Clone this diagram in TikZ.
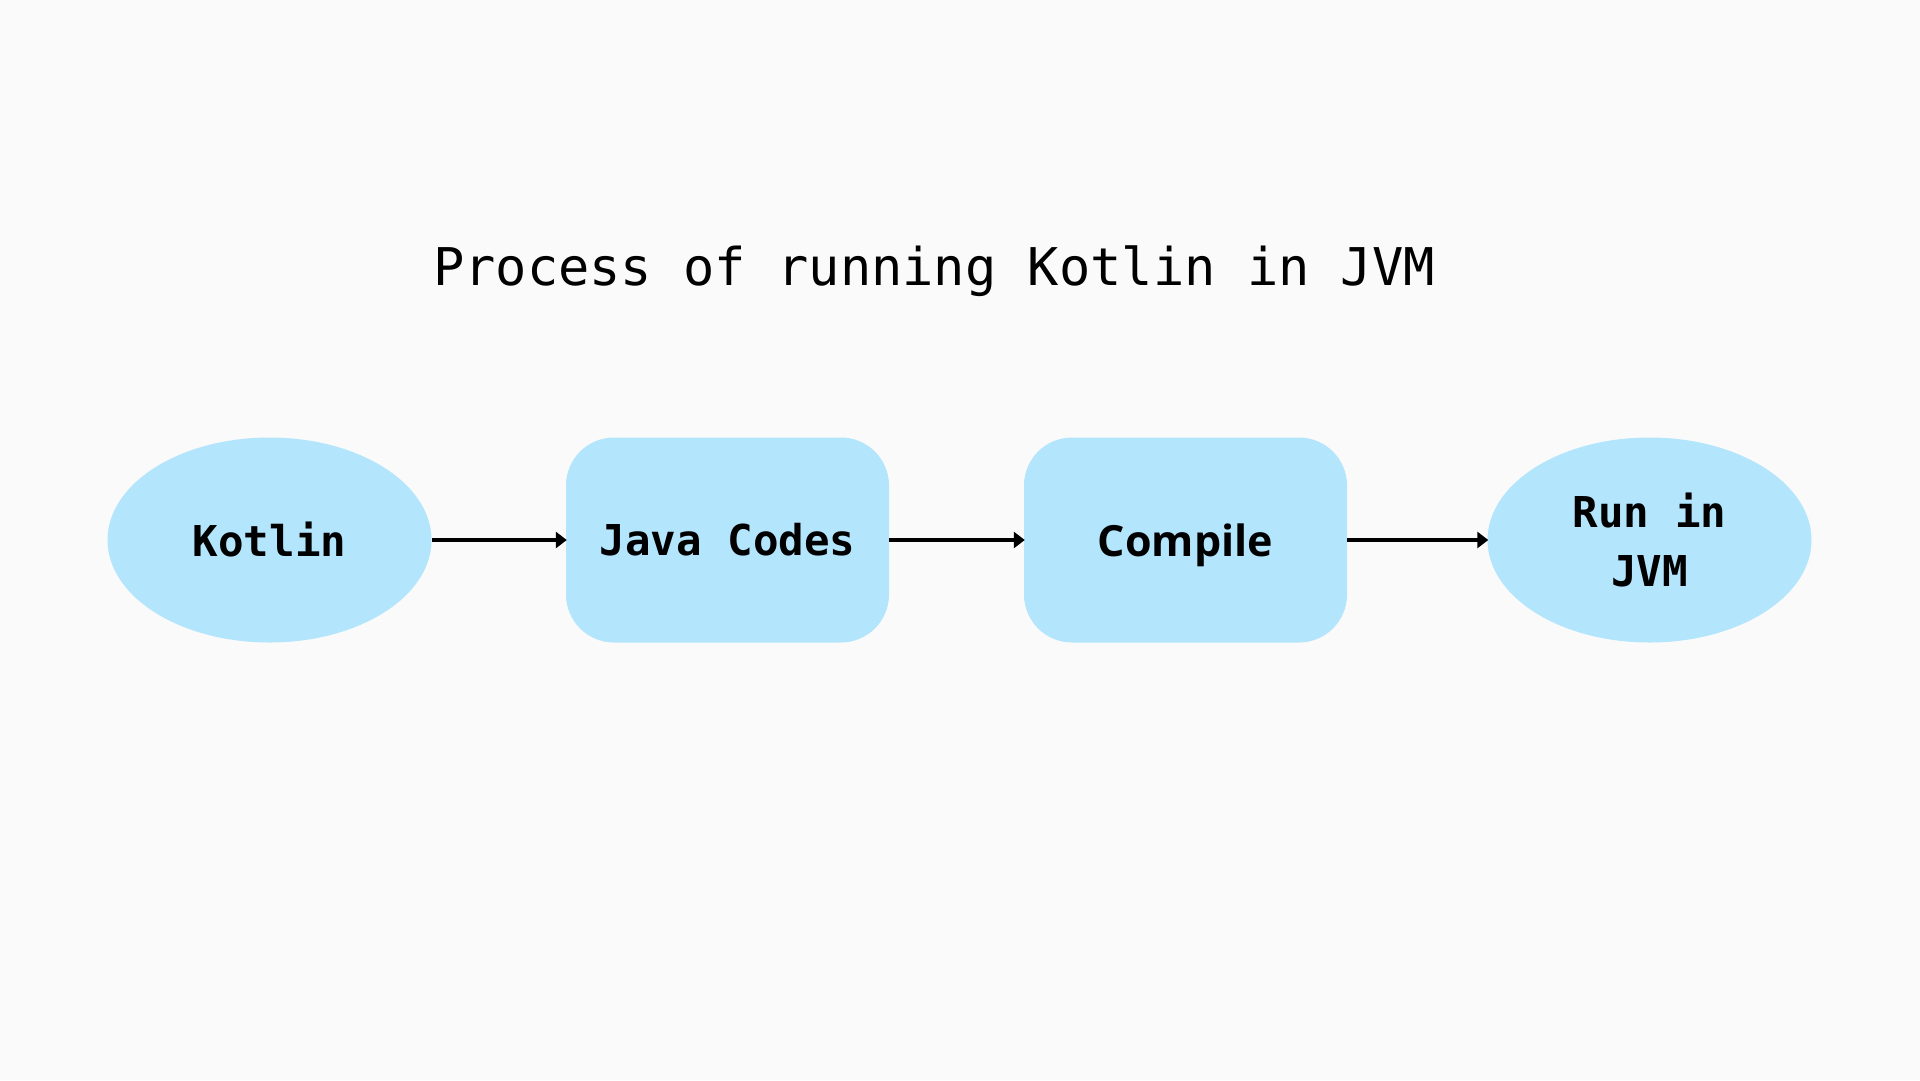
\documentclass[tikz,border=0pt]{standalone}
\usepackage{fontspec}
\setmonofont{DejaVu Sans Mono}
\newfontfamily\plexlike{Open Sans}
\usetikzlibrary{shapes.geometric,arrows.meta}
\definecolor{bgc}{HTML}{FAFAFA}
\definecolor{nodefill}{HTML}{B3E5FC}
\tikzset{
  ovalnode/.style={ellipse, fill=nodefill, draw=none, minimum width=324pt, minimum height=205pt, inner sep=0pt, align=center, font=\fontsize{42.5}{59}\selectfont\ttfamily\bfseries},
  boxnode/.style={rectangle, rounded corners=48pt, fill=nodefill, draw=none, minimum width=323pt, minimum height=205pt, inner sep=0pt, align=center, font=\fontsize{42.5}{59}\selectfont\ttfamily\bfseries},
  flow/.style={line width=3.5pt, -{Triangle[length=11pt,width=16pt]}, shorten >=-1pt}
}
\begin{document}
\begin{tikzpicture}[x=1pt,y=-1pt]
\fill[bgc] (0,0) rectangle (1920,1080);
\useasboundingbox (0,0) rectangle (1920,1080);
\node (title) at (934,271) {\fontsize{52}{62}\selectfont\ttfamily Process of running Kotlin in JVM};
\node[ovalnode] (kotlin) at (269.5,540) {Kotlin};
\node[boxnode] (java) at (727.5,540) {Java Codes};
\node[boxnode, text depth=0pt, font=\fontsize{43}{52}\selectfont\plexlike\bfseries] (compile) at (1185.5,540) {Compile};
\node[ovalnode] (run) at (1649.5,540) {Run in\\JVM};
\draw[flow] (kotlin.east) -- (java.west);
\draw[flow] (java.east) -- (compile.west);
\draw[flow] (compile.east) -- (run.west);
\end{tikzpicture}
\end{document}
